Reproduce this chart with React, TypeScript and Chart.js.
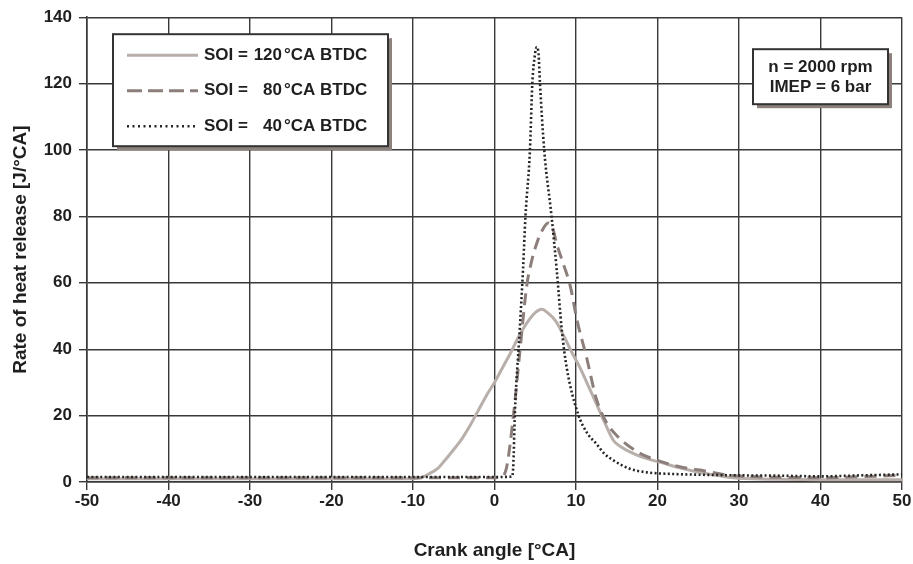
import React, { useEffect, useRef } from "react";
import { Chart, registerables } from "chart.js";

Chart.register(...registerables);

// SOI = 120 °CA BTDC (solid)
const angles120 = [-50, -40, -30, -20, -15, -10, -9, -8, -7, -6, -5, -4, -3, -2, -1, 0, 1, 2, 3, 4, 5, 5.8, 6.5, 7.5, 8.5, 9.5, 10.5, 11.5, 12.5, 13.5, 14.6, 15.5, 17, 19, 20.7, 22.5, 24.8, 26.5, 28.5, 30, 35, 40, 45, 50];
const hrr120 = [1, 1, 1, 1, 1, 1, 1.3, 2.5, 4, 6.8, 9.8, 13, 17, 21.5, 26, 30, 34.5, 39, 44, 48, 51, 52, 51, 48.5, 44, 39, 34.4, 29, 23.6, 18, 12.5, 10.6, 8.6, 6.8, 5.7, 4.4, 3.1, 2.3, 1.5, 1.1, 0.8, 0.7, 0.7, 0.7];

// SOI = 80 °CA BTDC (dashed)
const angles80 = [-50, -40, -30, -20, -10, 0, 0.9, 1.5, 2.3, 3.1, 3.95, 4.5, 5.2, 5.9, 6.6, 7.2, 7.6, 8.4, 9.3, 10.1, 11.3, 12.5, 13.6, 15.2, 17.9, 19.4, 22.7, 25.2, 28.5, 30, 35, 40, 45, 50];
const hrr80 = [1.3, 1.3, 1.3, 1.3, 1.3, 1.3, 1.5, 4.6, 19.5, 39, 59, 66, 72, 76, 78, 76, 72, 66, 59, 49, 37.5, 25, 18.5, 13.5, 8.6, 7, 4.6, 3.6, 2.1, 1.8, 1.4, 1.3, 1.6, 2.0];

// SOI = 40 °CA BTDC (dotted)
const angles40 = [-50, -40, -30, -20, -10, 0, 2.1, 2.3, 2.5, 3.1, 3.5, 3.8, 4.35, 4.64, 4.95, 5.18, 5.4, 5.58, 6.1, 7.0, 7.63, 8.25, 8.86, 10.25, 11.3, 12.5, 13.5, 14.6, 16.6, 18.7, 22, 25, 30, 35, 40, 45, 50];
const hrr40 = [1.5, 1.5, 1.5, 1.5, 1.5, 1.5, 1.6, 4.6, 20.5, 46, 64, 80, 100, 120, 128.5, 131, 129, 120, 100, 80, 64, 46, 34.4, 20.5, 15, 11.5, 8.5, 6.5, 4, 2.9, 2.4, 2.2, 2, 1.9, 1.7, 2, 2.3];

const xMin = -50;
const xMax = 50;
const xStep = 10;
const yMin = 0;
const yMax = 140;
const yStep = 20;

const soiValues = ["120", "80", "40"];
const noteLines = ["n = 2000 rpm", "IMEP = 6 bar"];
const xTitle = "Crank angle [°CA]";
const yTitle = "Rate of heat release [J/°CA]";

const FONT = "'Liberation Sans', Arial, Helvetica, sans-serif";
const TEXT = "#1f1f1f";
const GRID = "#383838";
const SHADOW = "#8d817d";

const styles = [
  { color: "#b8aeaa", width: 3, dash: [] as number[], legendDash: [] as number[] },
  { color: "#8c7f7b", width: 3, dash: [12, 7], legendDash: [15, 6] },
  { color: "#252525", width: 2.6, dash: [2, 2.4], legendDash: [2, 3.5] },
];

const toPts = (xs: number[], ys: number[]) => xs.map((x, i) => ({ x, y: ys[i] }));

export default function App() {
  const ref = useRef<HTMLCanvasElement>(null);

  useEffect(() => {
    const canvas = ref.current;
    if (!canvas) return;

    const boxes = {
      id: "boxes",
      afterDraw(chart: any) {
        const ctx = chart.ctx as CanvasRenderingContext2D;
        const a = chart.chartArea;
        ctx.save();
        // legend box
        const lx = a.left + 26, ly = a.top + 17, lw = 275, lh = 112;
        ctx.fillStyle = SHADOW;
        ctx.fillRect(lx + 4, ly + 4, lw, lh);
        ctx.fillStyle = "#fff";
        ctx.fillRect(lx, ly, lw, lh);
        ctx.strokeStyle = "#333";
        ctx.lineWidth = 2;
        ctx.strokeRect(lx, ly, lw, lh);
        ctx.font = `bold 17px ${FONT}`;
        ctx.fillStyle = TEXT;
        ctx.textBaseline = "middle";
        for (let i = 0; i < 3; i++) {
          const cy = ly + 21 + i * 35.5;
          const st = styles[i];
          ctx.strokeStyle = st.color;
          ctx.lineWidth = st.width;
          ctx.setLineDash(st.legendDash);
          ctx.beginPath();
          ctx.moveTo(lx + 14, cy);
          ctx.lineTo(lx + 85, cy);
          ctx.stroke();
          ctx.setLineDash([]);
          ctx.textAlign = "left";
          ctx.fillText("SOI =", lx + 91, cy);
          ctx.textAlign = "right";
          ctx.fillText(soiValues[i], lx + 169, cy);
          ctx.textAlign = "left";
          ctx.fillText("°CA BTDC", lx + 171, cy);
        }
        // note box
        const nw = 135, nh = 55;
        const nx = a.right - 149, ny = a.top + 32;
        ctx.fillStyle = SHADOW;
        ctx.fillRect(nx + 4, ny + 4, nw, nh);
        ctx.fillStyle = "#fff";
        ctx.fillRect(nx, ny, nw, nh);
        ctx.strokeStyle = "#333";
        ctx.lineWidth = 2;
        ctx.strokeRect(nx, ny, nw, nh);
        ctx.fillStyle = TEXT;
        ctx.textAlign = "center";
        noteLines.forEach((t, i) => ctx.fillText(t, nx + nw / 2, ny + 18.5 + i * 20));
        ctx.restore();
      },
    };

    const datasets = [
      { label: "SOI = 40°CA BTDC", data: toPts(angles40, hrr40), st: styles[2], order: 1 },
      { label: "SOI = 80°CA BTDC", data: toPts(angles80, hrr80), st: styles[1], order: 2 },
      { label: "SOI = 120°CA BTDC", data: toPts(angles120, hrr120), st: styles[0], order: 3 },
    ].map((d) => ({
      label: d.label,
      data: d.data,
      order: d.order,
      borderColor: d.st.color,
      borderWidth: d.st.width,
      borderDash: d.st.dash,
      borderCapStyle: "butt" as const,
      pointRadius: 0,
      fill: false,
      cubicInterpolationMode: "monotone" as const,
    }));

    const chart = new Chart(canvas, {
      type: "line",
      data: { datasets },
      plugins: [boxes],
      options: {
        animation: false,
        responsive: false,
        maintainAspectRatio: false,
        layout: { padding: { top: 13, right: 11, left: 0, bottom: 0 } },
        plugins: { legend: { display: false }, tooltip: { enabled: false } },
        scales: {
          x: {
            type: "linear",
            min: xMin,
            max: xMax,
            afterFit: (s: any) => { s.height = 82; },
            ticks: { stepSize: xStep, color: TEXT, font: { family: FONT, size: 17, weight: "bold" }, padding: 1, maxRotation: 0 },
            grid: { color: GRID, lineWidth: 1.4, tickLength: 8, tickColor: GRID },
            border: { color: GRID, width: 1.6 },
            title: { display: true, text: xTitle, color: TEXT, font: { family: FONT, size: 19, weight: "bold" }, padding: { top: 0, bottom: 2 } },
          },
          y: {
            type: "linear",
            min: yMin,
            max: yMax,
            afterFit: (s: any) => { s.width = 87; },
            ticks: { stepSize: yStep, color: TEXT, font: { family: FONT, size: 17, weight: "bold" }, padding: 7 },
            grid: { color: GRID, lineWidth: 1.4, tickLength: 8, tickColor: GRID },
            border: { color: GRID, width: 1.6 },
            title: { display: true, text: yTitle, color: TEXT, font: { family: FONT, size: 19, weight: "bold" }, padding: { top: 9, bottom: 0 } },
          },
        },
      },
    });
    return () => chart.destroy();
  }, []);

  return (
    <div style={{ position: "absolute", left: 0, top: 0, width: 913, height: 564, background: "#fff" }}>
      <canvas ref={ref} width={913} height={564} style={{ width: 913, height: 564, display: "block" }} />
    </div>
  );
}
